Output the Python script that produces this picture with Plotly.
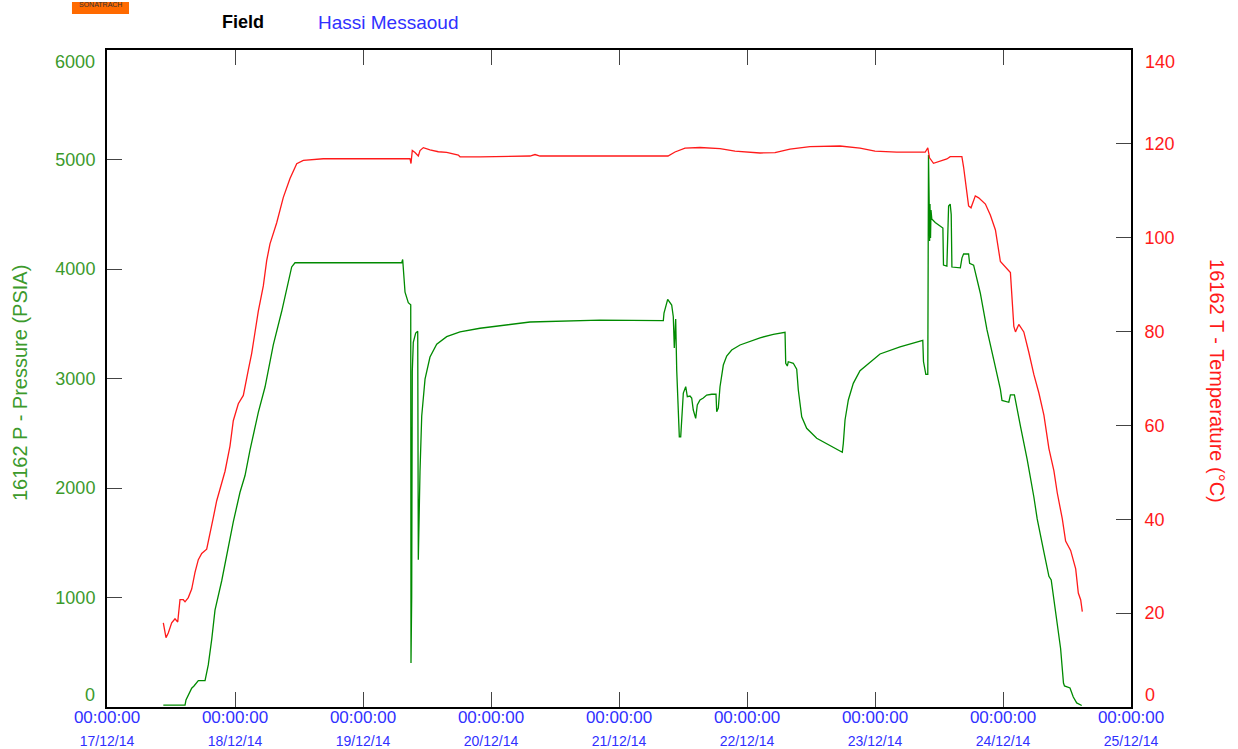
import pandas as pd
import plotly.graph_objects as go

# Gauge 16162 recording, Hassi Messaoud field.
# Elapsed time is in hours from 17/12/14 00:00:00.
start_time = pd.Timestamp("2014-12-17 00:00:00")

pressure_hours = [
    10.56, 14.63, 14.81, 15.88, 16.31, 17.12, 18.38, 18.99, 19.63, 20.25,
    21.51, 22.44, 23.68, 24.94, 25.88, 26.81, 28.37, 29.63, 31.18, 32.76,
    33.69, 34.63, 35.25, 55.26, 55.44, 55.88, 56.49, 56.95, 57.0, 57.13,
    57.24, 57.43, 57.88, 58.26, 58.37, 58.56, 58.69, 59.01, 59.63, 60.56,
    61.82, 63.69, 66.19, 69.94, 79.31, 92.44, 104.31, 104.44, 105.13, 105.88,
    106.18, 106.37, 106.63, 106.82, 107.31, 107.57, 107.81, 108.06, 108.51, 108.81,
    109.31, 109.63, 109.93, 110.38, 110.68, 111.19, 111.81, 112.44, 113.38, 114.19,
    114.32, 114.62, 114.94, 115.56, 116.19, 117.13, 118.69, 120.56, 122.44, 124.93,
    127.13, 127.26, 127.56, 127.74, 128.68, 129.32, 129.62, 130.26, 131.19, 133.07,
    135.56, 137.87, 138.06, 138.38, 139.0, 139.93, 141.19, 144.94, 148.69, 152.96,
    153.09, 153.53, 153.9, 154.03, 154.16, 154.24, 154.31, 154.41, 154.5, 154.65,
    155.29, 156.73, 156.84, 157.48, 157.8, 158.1, 158.29, 158.42, 160.0, 160.31,
    160.61, 161.55, 161.74, 162.49, 163.74, 165.0, 166.26, 167.51, 167.81, 169.09,
    169.39, 170.14, 171.28, 172.54, 173.78, 174.41, 175.67, 176.61, 177.04, 177.86,
    178.8, 179.34, 179.53, 180.56, 181.18, 181.82, 182.76,
]
pressure_psia = [
    18, 18, 64, 172, 192, 241, 241, 384, 615, 884,
    1153, 1383, 1691, 1961, 2114, 2345, 2691, 2922, 3307, 3614,
    3807, 4019, 4057, 4057, 4087, 3788, 3692, 3673, 402, 1007,
    3061, 3330, 3415, 3432, 1344, 1984, 2152, 2657, 2994, 3196,
    3314, 3382, 3425, 3459, 3516, 3534, 3528, 3598, 3723, 3671,
    3564, 3278, 3543, 3077, 2468, 2468, 2621, 2867, 2925, 2834,
    2840, 2822, 2712, 2636, 2758, 2804, 2822, 2849, 2856, 2856,
    2697, 2730, 2925, 3123, 3205, 3260, 3306, 3342, 3372, 3403,
    3422, 3139, 3114, 3153, 3139, 3084, 2895, 2651, 2545, 2454,
    2386, 2326, 2408, 2621, 2804, 2956, 3071, 3224, 3288, 3348,
    3155, 3037, 3037, 5041, 4593, 4256, 4593, 4283, 4539, 4456,
    4424, 4374, 4036, 4027, 4575, 4593, 4498, 4018, 4011, 4102,
    4137, 4137, 4052, 4035, 3781, 3443, 3172, 2901, 2800, 2783,
    2851, 2851, 2563, 2259, 1920, 1718, 1414, 1194, 1160, 872,
    534, 219, 192, 174, 91, 37, 14,
]

temp_hours = [
    10.56, 11.06, 11.49, 12.13, 12.75, 13.26, 13.69, 14.31, 14.63, 15.24,
    15.88, 16.5, 17.12, 17.76, 18.69, 19.31, 19.93, 20.57, 21.19, 22.13,
    23.06, 23.68, 24.62, 25.56, 26.49, 27.13, 27.75, 28.37, 29.31, 29.94,
    30.56, 31.82, 33.06, 34.31, 35.57, 36.81, 40.56, 56.81, 57.0, 57.24,
    57.75, 58.37, 58.69, 59.31, 60.56, 62.12, 63.69, 65.87, 66.19, 69.94,
    79.31, 80.25, 81.19, 103.69, 105.19, 106.5, 108.38, 111.19, 114.94, 117.75,
    122.44, 125.25, 128.06, 131.81, 137.44, 141.19, 144.0, 148.07, 153.41, 153.9,
    154.22, 154.97, 155.91, 157.48, 158.1, 160.29, 160.61, 160.93, 161.55, 162.0,
    162.81, 163.44, 164.7, 165.64, 166.58, 167.51, 168.45, 169.39, 170.03, 170.34,
    170.96, 171.9, 172.84, 173.78, 174.73, 175.67, 176.61, 177.54, 178.18, 179.12,
    179.74, 180.68, 181.63, 182.12, 182.57, 182.87,
]
temp_degc = [
    17.92, 14.79, 15.77, 17.92, 18.81, 18.11, 22.86, 22.86, 22.42, 23.31,
    25.14, 28.70, 31.39, 32.73, 33.62, 36.78, 40.36, 43.96, 46.66, 50.24,
    55.61, 61.0, 64.61, 66.40, 71.79, 75.37, 79.86, 84.34, 89.73, 95.12,
    98.70, 103.19, 108.59, 112.61, 115.77, 116.47, 116.83, 116.83, 115.81, 118.58,
    118.17, 117.41, 118.58, 119.20, 118.73, 118.32, 118.17, 117.62, 117.24, 117.24,
    117.41, 117.73, 117.41, 117.41, 117.41, 118.26, 119.11, 119.22, 119.0, 118.47,
    118.05, 118.15, 118.90, 119.43, 119.54, 119.11, 118.47, 118.22, 118.22, 119.15,
    117.02, 115.85, 116.23, 116.79, 117.26, 117.26, 115.06, 111.89, 106.77, 106.37,
    108.91, 108.50, 107.18, 104.79, 101.64, 94.93, 93.76, 92.56, 81.12, 79.93,
    81.52, 79.93, 75.60, 70.87, 66.91, 62.18, 55.08, 50.35, 45.60, 40.08,
    35.35, 33.37, 29.43, 24.29, 22.80, 20.31,
]

day_labels = ["17/12/14", "18/12/14", "19/12/14", "20/12/14", "21/12/14",
              "22/12/14", "23/12/14", "24/12/14", "25/12/14"]
pressure_ticks = [0, 1000, 2000, 3000, 4000, 5000, 6000]
temp_ticks = [0, 20, 40, 60, 80, 100, 120, 140]

FONT = "Arial, Liberation Sans, sans-serif"
GREEN_LINE = "#008a00"
GREEN_TEXT = "#3c9a2c"
RED = "#ff1a1a"
BLUE = "#3030ff"

p_time = start_time + pd.to_timedelta(pressure_hours, unit="h")
t_time = start_time + pd.to_timedelta(temp_hours, unit="h")
day_vals = [start_time + pd.Timedelta(days=i) for i in range(len(day_labels))]
day_text = ["00:00:00<br><span style='font-size:14px'>%s</span>" % d for d in day_labels]

# The end labels of each value axis sit just inside the frame, so the axis
# itself prints the inner ones and the two end labels are placed below.
p_text = ["" if v in (pressure_ticks[0], pressure_ticks[-1]) else str(v) for v in pressure_ticks]
t_text = ["" if v in (temp_ticks[0], temp_ticks[-1]) else str(v) for v in temp_ticks]

fig = go.Figure()
fig.add_trace(go.Scatter(x=p_time, y=pressure_psia, mode="lines",
                         line=dict(color=GREEN_LINE, width=1.3),
                         name="16162 P - Pressure (PSIA)", yaxis="y"))
fig.add_trace(go.Scatter(x=t_time, y=temp_degc, mode="lines",
                         line=dict(color=RED, width=1.3),
                         name="16162 T - Temperature (°C)", yaxis="y2"))

axis_common = dict(showgrid=False, zeroline=False, showline=True,
                   linecolor="black", linewidth=2, ticks="inside",
                   ticklen=15, tickwidth=1, tickcolor="#444")

fig.update_layout(
    width=1238, height=749,
    margin=dict(l=107, r=107, t=50, b=42, autoexpand=False),
    paper_bgcolor="white", plot_bgcolor="white",
    showlegend=False,
    font=dict(family=FONT, size=18),
    xaxis=dict(type="date", range=[day_vals[0], day_vals[-1]],
               tickvals=day_vals, ticktext=day_text, mirror="ticks",
               tickfont=dict(family=FONT, size=17, color=BLUE),
               ticklabelstandoff=-6, **axis_common),
    yaxis=dict(range=[0, 6000], tickvals=pressure_ticks, ticktext=p_text,
               mirror=True,
               tickfont=dict(family=FONT, size=18, color=GREEN_TEXT),
               ticklabelstandoff=6, **axis_common),
    yaxis2=dict(range=[0, 140], tickvals=temp_ticks, ticktext=t_text,
                overlaying="y", side="right",
                tickfont=dict(family=FONT, size=18, color=RED),
                ticklabelstandoff=8, **axis_common),
)

for val, shift in ((pressure_ticks[0], 12), (pressure_ticks[-1], -12)):
    fig.add_annotation(text=str(val), xref="paper", yref="y", x=0, y=val,
                       xanchor="right", yanchor="middle", xshift=-10,
                       yshift=shift, showarrow=False,
                       font=dict(family=FONT, size=18, color=GREEN_TEXT))
for val, shift in ((temp_ticks[0], 12), (temp_ticks[-1], -12)):
    fig.add_annotation(text=str(val), xref="paper", yref="y2", x=1, y=val,
                       xanchor="left", yanchor="middle", xshift=12,
                       yshift=shift, showarrow=False,
                       font=dict(family=FONT, size=18, color=RED))

# Company badge, field header and axis titles
fig.add_shape(type="rect", xref="paper", yref="paper",
              x0=-0.0342, x1=0.0215, y0=1.0548, y1=1.0731,
              fillcolor="#ff6a00", line=dict(width=0))
fig.add_annotation(text="SONATRACH", xref="paper", yref="paper",
                   x=-0.0064, y=1.0700, showarrow=False,
                   xanchor="center", yanchor="middle",
                   font=dict(family=FONT, size=7, color="#333"))
fig.add_annotation(text="<b>Field</b>", xref="paper", yref="paper",
                   x=0.1328, y=1.0426, showarrow=False,
                   xanchor="center", yanchor="middle",
                   font=dict(family=FONT, size=18, color="black"))
fig.add_annotation(text="Hassi Messaoud", xref="paper", yref="paper",
                   x=0.2041, y=1.0426, showarrow=False,
                   xanchor="left", yanchor="middle",
                   font=dict(family=FONT, size=19, color=BLUE))
fig.add_annotation(text="16162 P - Pressure (PSIA)", xref="paper", yref="paper",
                   x=-0.085, y=0.493, showarrow=False, textangle=-90,
                   xanchor="center", yanchor="middle",
                   font=dict(family=FONT, size=20, color=GREEN_TEXT))
fig.add_annotation(text="16162 T - Temperature (°C)", xref="paper", yref="paper",
                   x=1.084, y=0.496, showarrow=False, textangle=90,
                   xanchor="center", yanchor="middle",
                   font=dict(family=FONT, size=20, color=RED))

fig.write_html("out.html")
